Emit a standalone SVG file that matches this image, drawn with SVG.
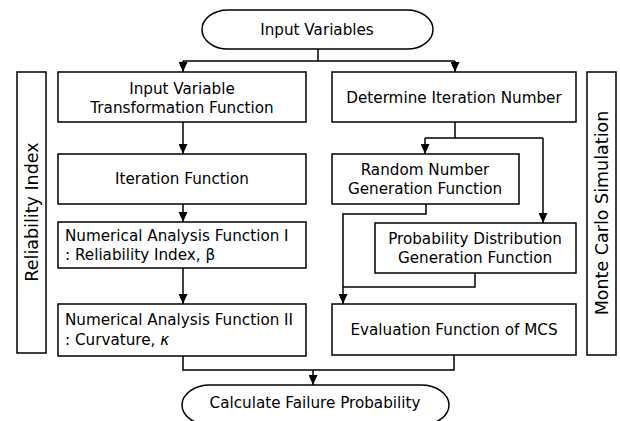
<svg xmlns="http://www.w3.org/2000/svg" width="620" height="421" viewBox="0 0 620 421">
<style>
.box{fill:#fff;stroke:#000;stroke-width:1.5}
.t{font-family:"DejaVu Sans",Verdana,sans-serif;font-size:15.2px;fill:#000}
.c{text-anchor:middle}
.side{font-family:"DejaVu Sans",Verdana,sans-serif;font-size:17.5px;fill:#000;text-anchor:middle}
.ln{fill:none;stroke:#000;stroke-width:1.5}
</style>
<defs>
<marker id="ah" markerUnits="userSpaceOnUse" markerWidth="10" markerHeight="9" refX="10" refY="4.5" orient="auto">
<path d="M0,0 L10,4.5 L0,9 z" fill="#000"/>
</marker>
</defs>
<rect width="620" height="421" fill="#fff"/>
<g id="connectors">
<path class="ln" d="M318,49 V61 M183,61 H455"/>
<path class="ln" d="M183,61 V72" marker-end="url(#ah)"/>
<path class="ln" d="M455,61 V72" marker-end="url(#ah)"/>
<path class="ln" d="M183,122 V154" marker-end="url(#ah)"/>
<path class="ln" d="M183,204 V222" marker-end="url(#ah)"/>
<path class="ln" d="M183,268 V304" marker-end="url(#ah)"/>
<path class="ln" d="M183,356 V370 H454 V355"/>
<path class="ln" d="M313,370 V385" marker-end="url(#ah)"/>
<path class="ln" d="M455,122 V138 M425,138 H543"/>
<path class="ln" d="M425,138 V154" marker-end="url(#ah)"/>
<path class="ln" d="M543,138 V223" marker-end="url(#ah)"/>
<path class="ln" d="M426,204 V214 H343 V304" marker-end="url(#ah)"/>
<path class="ln" d="M475,273 V287 H343"/>
</g>
<g id="input-variables">
<rect class="box" x="202" y="10" width="231" height="39" rx="26" ry="19.5"/>
<text class="t c" x="317" y="35">Input Variables</text>
</g>
<g id="reliability-index-label">
<rect class="box" x="17" y="72" width="29" height="281"/>
<text class="side" transform="translate(38,212) rotate(-90)">Reliability Index</text>
</g>
<g id="monte-carlo-label">
<rect class="box" x="587" y="72" width="29" height="283"/>
<text class="side" transform="translate(608,213) rotate(-90)">Monte Carlo Simulation</text>
</g>
<g id="input-variable-transformation">
<rect class="box" x="58" y="72" width="248" height="50"/>
<text class="t c" x="182" y="94">Input Variable</text>
<text class="t c" x="182" y="113">Transformation Function</text>
</g>
<g id="iteration-function">
<rect class="box" x="58" y="154" width="248" height="50"/>
<text class="t c" x="182" y="184">Iteration Function</text>
</g>
<g id="numerical-analysis-1">
<rect class="box" x="58" y="222" width="248" height="46"/>
<text class="t" x="65" y="241">Numerical Analysis Function I</text>
<text class="t" x="65" y="260">: Reliability Index, β</text>
</g>
<g id="numerical-analysis-2">
<rect class="box" x="58" y="304" width="248" height="52"/>
<text class="t" x="65" y="325">Numerical Analysis Function II</text>
<text class="t" x="65" y="345">: Curvature, <tspan font-style="italic">κ</tspan></text>
</g>
<g id="determine-iteration-number">
<rect class="box" x="332" y="72" width="244" height="50"/>
<text class="t c" x="454" y="103">Determine Iteration Number</text>
</g>
<g id="random-number-generation">
<rect class="box" x="332" y="154" width="187" height="50"/>
<text class="t c" x="425" y="175">Random Number</text>
<text class="t c" x="425" y="194">Generation Function</text>
</g>
<g id="probability-distribution-generation">
<rect class="box" x="375" y="223" width="201" height="50"/>
<text class="t c" x="475" y="244">Probability Distribution</text>
<text class="t c" x="475" y="263">Generation Function</text>
</g>
<g id="evaluation-function-mcs">
<rect class="box" x="332" y="304" width="244" height="51"/>
<text class="t c" x="454" y="335">Evaluation Function of MCS</text>
</g>
<g id="calculate-failure-probability">
<rect class="box" x="182" y="385" width="267" height="40" rx="28" ry="20"/>
<text class="t c" x="315" y="408">Calculate Failure Probability</text>
</g>
</svg>
